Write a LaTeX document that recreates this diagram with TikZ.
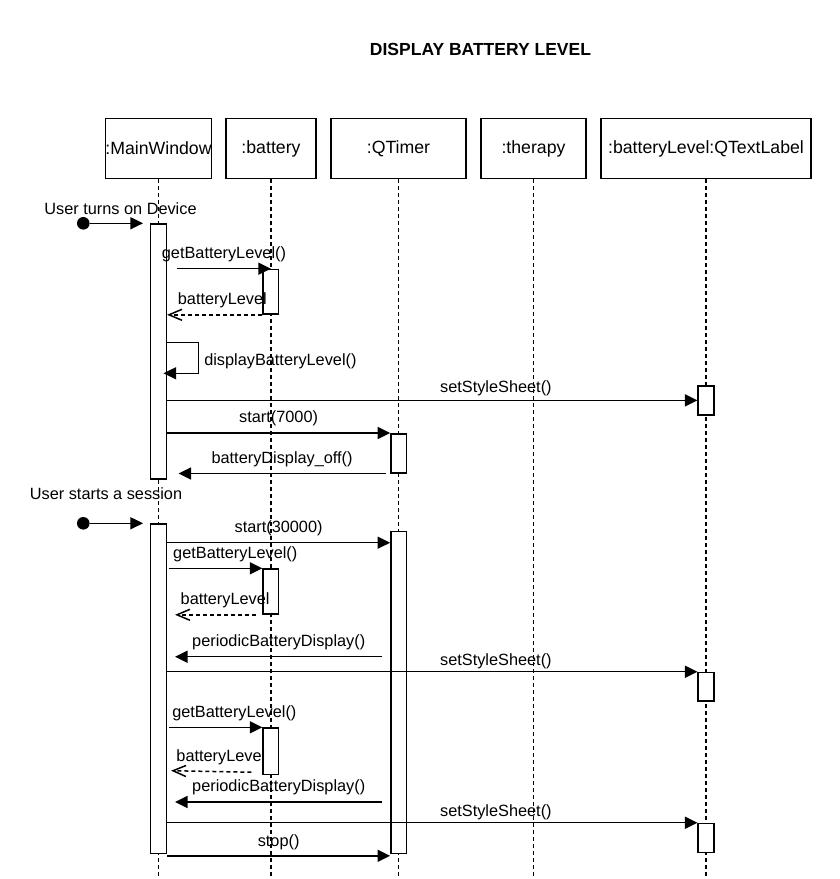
\documentclass[tikz,border=0pt]{standalone}
\usepackage{fontspec}
\setmainfont{Liberation Sans}
\usetikzlibrary{arrows.meta}
\tikzset{
    HD/.style ={rectangle,minimum height=60.4pt,inner sep=0pt,draw,line width=1.5pt,font=\fontsize{17.7}{20}\selectfont},
    AC/.style ={rectangle,minimum width=15.6pt,inner sep=0pt,draw,fill=white,line width=1.5pt,anchor=north},
    LF/.style ={line width=1.5pt,dash pattern=on 4pt off 3pt},
    MS/.style ={line width=1.5pt,-{Triangle[length=12.5pt,width=12pt]}},
    RT/.style ={line width=1.5pt,dash pattern=on 4pt off 3pt,-{Straight Barb[length=13pt,width=11pt]}},
    DT/.style ={circle,fill=black,minimum size=12.6pt,inner sep=0pt},
    LB/.style ={inner sep=2pt,font=\fontsize{16.3}{19}\selectfont}}
\begin{document}
\begin{tikzpicture}[x=1pt,y=-1pt]
        \useasboundingbox (0,0) rectangle (840,879);
        \node[font=\bfseries\fontsize{17.5}{20}\selectfont] (title) at (480.5,49.5) {DISPLAY BATTERY LEVEL};
        \draw (158.5,148.5) node[HD,minimum width=105pt] (MW) {:MainWindow};
        \draw (271,148.5) node[HD,minimum width=90pt] (BA) {:battery};
        \draw (398.5,148.5) node[HD,minimum width=135pt] (QT) {:QTimer};
        \draw (533.5,148.5) node[HD,minimum width=105pt] (TH) {:therapy};
        \draw (706,148.5) node[HD,minimum width=210pt] (TL) {:batteryLevel:QTextLabel};
        \foreach \n in {MW,BA,QT,TH,TL}{
            \draw[LF] (\n.south) -- ++(0,697);}
        \draw (158.5,223.3) node[AC,minimum height=255pt] (A1) {};
        \draw (270.9,268.7) node[AC,minimum height=44.6pt] (B1) {};
        \draw (706,385.3) node[AC,minimum height=28.7pt] (T1) {};
        \draw (398.7,433) node[AC,minimum height=39pt] (Q1) {};
        \draw (158.5,523.3) node[AC,minimum height=329.4pt] (A2) {};
        \draw (398.7,530.7) node[AC,minimum height=322pt] (Q2) {};
        \draw (270.9,568.3) node[AC,minimum height=45pt] (B2) {};
        \draw (706,671.7) node[AC,minimum height=28.6pt] (T2) {};
        \draw (270.9,727.3) node[AC,minimum height=46.4pt] (B3) {};
        \draw (706,822.7) node[AC,minimum height=29pt] (T3) {};
        \node[DT] (DT1) at (83.3,223.3) {};
        \node[DT] (DT2) at (83.3,523.3) {};
        \node[LB] (u1) at (120.5,209) {User turns on Device};
        \node[LB] (u2) at (106,494) {User starts a session};
        \draw[MS] (DT1) -- ([xshift=-7pt]A1.north west);
        \draw[MS] ([xshift=10pt]A1.east |- B1.north) -- (B1.north) node[LB,midway,above=4pt] (m1) {getBatteryLevel()};
        \draw[RT] (B1.south west) -- (A1.east |- B1.south) node[LB,pos=0.42,above=4pt] (m2) {batteryLevel};
        \draw[MS] ([yshift=-119.4pt]A1.north east) -- ++(31.5,0) -- ++(0,30.6) node[LB,midway,right=3pt,yshift=-3.7pt] (m3) {displayBatteryLevel()} -- ([xshift=-3.5pt,yshift=-150pt]A1.north east);
        \draw[MS] (A1.east |- T1.west) -- (T1.west) node[LB,pos=0.62,above=1.5pt] (m4) {setStyleSheet()};
        \draw[MS] (A1.east |- Q1.north) -- (Q1.north west) node[LB,midway,above=4pt] (m5) {start(7000)};
        \draw[MS] ([xshift=-4.5pt]Q1.south west) -- ([xshift=11.5pt]A1.east |- Q1.south) node[LB,midway,above=4pt] (m6) {batteryDisplay\_off()};
        \draw[MS] (DT2) -- ([xshift=-7pt]A2.north west);
        \draw[MS] ([yshift=-19.4pt]A2.north east) -- ([yshift=-12pt]Q2.north west) node[LB,midway,above=4pt] (m7) {start(30000)};
        \draw[MS] ([xshift=2pt]A2.east |- B2.north) -- (B2.north west) node[LB,pos=0.71,above=4pt] (m8) {getBatteryLevel()};
        \draw[RT] ([xshift=-6.5pt]B2.south west) -- ([xshift=8pt]A2.east |- B2.south) node[LB,pos=0.38,above=4pt] (m9) {batteryLevel};
        \draw[MS] ([xshift=-7.7pt,yshift=-126pt]Q2.north west) -- ([xshift=8pt,yshift=-133.4pt]A2.north east) node[LB,midway,above=4pt] (m10) {periodicBatteryDisplay()};
        \draw[MS] (A2.east |- T2.north west) -- (T2.north west) node[LB,pos=0.62,above=0.5pt] (m11) {setStyleSheet()};
        \draw[MS] ([xshift=2pt]A2.east |- B3.north) -- (B3.north west) node[LB,pos=0.70,above=4pt] (m12) {getBatteryLevel()};
        \draw[RT] ([xshift=-11pt,yshift=3pt]B3.south west) -- ([xshift=4pt,yshift=-247.4pt]A2.north east) node[LB,pos=0.38,above=4.5pt] (m13) {batteryLevel};
        \draw[MS] ([xshift=-7.7pt,yshift=-271.3pt]Q2.north west) -- ([xshift=8pt,yshift=-278.7pt]A2.north east) node[LB,midway,above=4pt] (m14) {periodicBatteryDisplay()};
        \draw[MS] (A2.east |- T3.north west) -- (T3.north west) node[LB,pos=0.62,above=0.5pt] (m15) {setStyleSheet()};
        \draw[MS] ([yshift=-1.6pt]A2.south east) -- ([yshift=-1.6pt]Q2.south west) node[LB,midway,above=3pt] (m16) {stop()};
    \end{tikzpicture}
\end{document}
